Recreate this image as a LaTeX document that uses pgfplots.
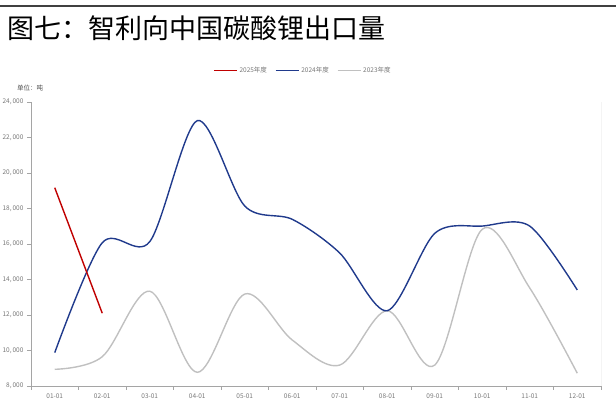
\documentclass[border=0pt]{standalone}
\usepackage{fontspec}
\setmainfont{Noto Sans CJK SC}
\usepackage{pgfplots}
\pgfplotsset{compat=1.18}
\definecolor{c25}{RGB}{192,0,0}
\definecolor{c24}{RGB}{32,58,140}
\definecolor{c23}{RGB}{192,192,192}
\definecolor{axgray}{RGB}{165,165,165}
\definecolor{txtgray}{RGB}{120,120,120}
\begin{document}
\begin{tikzpicture}
\useasboundingbox (0pt,0pt) rectangle (616pt,417pt);
\draw[line width=1.5pt, black!75] (0pt,411pt) -- (616pt,411pt);
\node[anchor=west, inner sep=0, font=\fontsize{27}{30}\selectfont] at (7pt,389pt) {图七：智利向中国碳酸锂出口量};
\node[anchor=west, inner sep=0, font=\fontsize{6.5}{7}\selectfont, text=black!70] at (17pt,329pt) {单位：吨};
\begin{axis}[
  at={(31pt,31pt)}, anchor=south west, scale only axis,
  width=570pt, height=284pt,
  xmin=-0.5, xmax=11.5, ymin=8000, ymax=24000,
  axis x line*=bottom, axis y line*=left,
  axis line style={draw=axgray, line width=0.8pt, -},
  xtick={-0.5,0.5,...,11.5},
  xticklabels={01-01,02-01,03-01,04-01,05-01,06-01,07-01,08-01,09-01,10-01,11-01,12-01},
  x tick label as interval,
  ytick={8000,10000,...,24000},
  scaled y ticks=false,
  tick align=outside, major tick length=4pt,
  tick style={draw=axgray, line width=0.8pt},
  tick label style={font=\fontsize{6.5}{7}\selectfont, text=txtgray},
  /pgf/number format/assume math mode=true,
  y tick label style={/pgf/number format/1000 sep={,\,}},
  legend style={at={(0.477,1)}, anchor=south, yshift=24pt, draw=none, fill=none,
    legend columns=3, font=\fontsize{6.5}{7}\selectfont, text=txtgray,
    /tikz/every even column/.append style={column sep=6pt}},
  legend image code/.code={\draw[#1] (0pt,0pt) -- (23pt,0pt);},
  reverse legend,
]
\draw[axgray, line width=0.8pt] (rel axis cs:1,0) -- (rel axis cs:1,1);
\addplot[c23, line width=1.4pt, smooth, tension=0.55] coordinates {(0,8940)(1,9650)(2,13340)(3,8770)(4,13180)(5,10590)(6,9180)(7,12240)(8,9180)(9,16830)(10,13520)(11,8720)};
\addlegendentry{2023年度}
\addplot[c24, line width=1.4pt, smooth, tension=0.5] coordinates {(0,9880)(1,16070)(2,16130)(3,22950)(4,18140)(5,17390)(6,15490)(7,12240)(8,16600)(9,17010)(10,17010)(11,13410)};
\addlegendentry{2024年度}
\addplot[c25, line width=1.4pt] coordinates {(0,19170)(1,12100)};
\addlegendentry{2025年度}
\end{axis}
\end{tikzpicture}
\end{document}
